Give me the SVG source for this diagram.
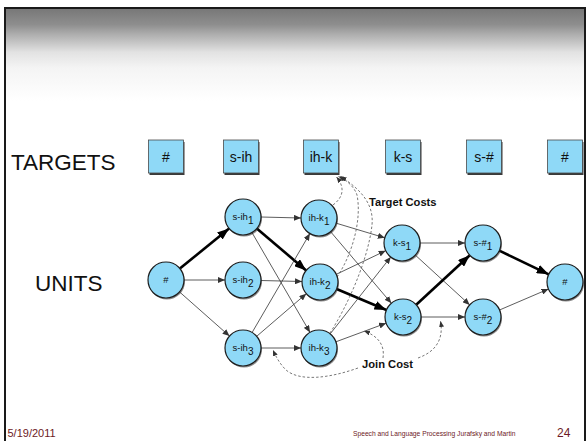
<svg xmlns="http://www.w3.org/2000/svg" width="587" height="441" viewBox="0 0 587 441">
  <style>
    .lbl { font-family: "Liberation Sans", Arial, sans-serif; fill: #111; }
    .row { font-size: 22.5px; }
    .tbox { fill: #8fd9f7; stroke: #4a4a4a; stroke-width: 0.8; }
    .tshadow { fill: #3a3a3a; }
    .ttext { font-size: 14px; text-anchor: middle; }
    .unit { fill: #8fd9f7; stroke: #1e1e1e; stroke-width: 1.2; }
    .ushadow { fill: #2a2a2a; opacity: 0.55; }
    .utext { font-size: 9.5px; text-anchor: middle; }
    .thin { stroke: #333; stroke-width: 0.8; fill: none; marker-end: url(#arr); }
    .thick { stroke: #000; stroke-width: 2.6; fill: none; marker-end: url(#arrBig); }
    .cost { stroke: #555; stroke-width: 0.8; stroke-dasharray: 2.5 2; fill: none; marker-end: url(#arrDash); }
    .note { font-size: 11.2px; font-weight: bold; }
    .foot { font-family: "Liberation Sans", Arial, sans-serif; fill: #6d1a26; }
  </style>
  <defs>
    <linearGradient id="topShade" x1="0" y1="0" x2="0" y2="1">
      <stop offset="0" stop-color="#787878"/>
      <stop offset="0.17" stop-color="#8e8e8e"/>
      <stop offset="0.27" stop-color="#acacac"/>
      <stop offset="0.40" stop-color="#cfcfcf"/>
      <stop offset="0.47" stop-color="#e2e2e2"/>
      <stop offset="0.64" stop-color="#f4f4f4"/>
      <stop offset="1" stop-color="#ffffff"/>
    </linearGradient>
    <marker id="arr" markerUnits="userSpaceOnUse" markerWidth="8" markerHeight="6" refX="7" refY="3" orient="auto">
      <path d="M0,0 L7,3 L0,6 Z" fill="#333"/>
    </marker>
    <marker id="arrBig" markerUnits="userSpaceOnUse" markerWidth="13" markerHeight="9" refX="12" refY="4.5" orient="auto">
      <path d="M0,0 L12,4.5 L0,9 Z" fill="#000"/>
    </marker>
    <marker id="arrDash" markerUnits="userSpaceOnUse" markerWidth="7" markerHeight="5" refX="6" refY="2.5" orient="auto">
      <path d="M0,0 L6,2.5 L0,5 Z" fill="#333"/>
    </marker>
  </defs>

  <!-- slide frame with shaded header band -->
  <rect x="0" y="0" width="587" height="441" fill="#ffffff"/>
  <rect x="5" y="8" width="580" height="450" fill="#ffffff" stroke="#1a1a1a" stroke-width="2"/>
  <rect x="6" y="9" width="578" height="92" fill="url(#topShade)"/>

  <!-- row headings -->
  <text class="lbl row" x="11" y="170">TARGETS</text>
  <text class="lbl row" x="35" y="291">UNITS</text>

  <!-- target boxes -->
  <g id="target-hash-start">
    <rect class="tshadow" x="149.5" y="142" width="35" height="33"/>
    <rect class="tbox" x="148.5" y="140" width="35" height="33"/>
    <text class="lbl ttext" x="166" y="162">#</text>
  </g>
  <g id="target-s-ih">
    <rect class="tshadow" x="224.5" y="142" width="35" height="33"/>
    <rect class="tbox" x="223.5" y="140" width="35" height="33"/>
    <text class="lbl ttext" x="241" y="162">s-ih</text>
  </g>
  <g id="target-ih-k">
    <rect class="tshadow" x="304.5" y="142" width="35" height="33"/>
    <rect class="tbox" x="303.5" y="140" width="35" height="33"/>
    <text class="lbl ttext" x="321" y="162">ih-k</text>
  </g>
  <g id="target-k-s">
    <rect class="tshadow" x="386.5" y="142" width="35" height="33"/>
    <rect class="tbox" x="385.5" y="140" width="35" height="33"/>
    <text class="lbl ttext" x="403" y="162">k-s</text>
  </g>
  <g id="target-s-hash">
    <rect class="tshadow" x="467.5" y="142" width="35" height="33"/>
    <rect class="tbox" x="466.5" y="140" width="35" height="33"/>
    <text class="lbl ttext" x="484" y="162">s-#</text>
  </g>
  <g id="target-hash-end">
    <rect class="tshadow" x="548.5" y="142" width="35" height="33"/>
    <rect class="tbox" x="547.5" y="140" width="35" height="33"/>
    <text class="lbl ttext" x="565" y="162">#</text>
  </g>

  <!-- connectors between units, plus dashed cost annotations -->
  <g id="connectors">
    <line class="thick" x1="179.9" y1="268.6" x2="229.1" y2="228.4"/>
    <line class="thin" x1="184" y1="280" x2="225" y2="280"/>
    <line class="thin" x1="179.5" y1="291.9" x2="229.5" y2="336.1"/>

    <line class="thin" x1="261" y1="217" x2="301" y2="218"/>
    <line class="thick" x1="256.8" y1="228.6" x2="306.2" y2="270.4"/>
    <line class="thin" x1="252" y1="232.6" x2="310" y2="332.4"/>
    <line class="thin" x1="261" y1="280.5" x2="302" y2="281.5"/>
    <line class="thin" x1="252.1" y1="332.5" x2="309.9" y2="233.5"/>
    <line class="thin" x1="256.7" y1="336.3" x2="306.3" y2="293.7"/>
    <line class="thin" x1="261" y1="348" x2="301" y2="348"/>

    <line class="thin" x1="336.2" y1="223.2" x2="384.8" y2="237.8"/>
    <line class="thin" x1="330.6" y1="231.7" x2="391.4" y2="303.3"/>
    <line class="thin" x1="336.3" y1="274.3" x2="385.7" y2="250.7"/>
    <line class="thick" x1="336.6" y1="289" x2="386.4" y2="310"/>
    <line class="thin" x1="330.2" y1="333.9" x2="390.8" y2="256.9"/>
    <line class="thin" x1="335.9" y1="341.8" x2="386.1" y2="323.2"/>

    <line class="thin" x1="420" y1="243" x2="465" y2="243"/>
    <line class="thin" x1="415.3" y1="255.1" x2="469.7" y2="304.9"/>
    <line class="thick" x1="416.2" y1="304.8" x2="469.8" y2="255.2"/>
    <line class="thin" x1="421" y1="317" x2="465" y2="317"/>

    <line class="thick" x1="499.3" y1="250.7" x2="548.7" y2="274.3"/>
    <line class="thin" x1="499.5" y1="310" x2="548.5" y2="289"/>

    <!-- target costs: units of the ih-k column back to the ih-k target -->
    <path class="cost" d="M333,205 C345,196 344,186 336.5,177"/>
    <path class="cost" d="M337,277 C352,255 362,220 357,195 C354,186 346,180 338.5,176.5"/>
    <path class="cost" d="M330,333 C348,305 368,260 372,225 C374,205 362,190 340.5,176.5"/>

    <!-- join costs: pointing at the joins -->
    <path class="cost" d="M358,368 C330,378 300,382 286,370 C280,364 276,357 273,350"/>
    <path class="cost" d="M383,358 C385,345 378,336 364,331"/>
    <path class="cost" d="M418,358 C435,352 444,340 440.5,321"/>
  </g>

  <text class="lbl note" x="369" y="206">Target Costs</text>
  <text class="lbl note" x="362" y="368">Join Cost</text>

  <!-- unit nodes -->
  <g id="unit-hash-start">
    <circle class="ushadow" cx="167" cy="281.5" r="18"/>
    <circle class="unit" cx="166" cy="280" r="18"/>
    <text class="lbl utext" x="166" y="283">#</text>
  </g>
  <g id="unit-s-ih-1">
    <circle class="ushadow" cx="244" cy="218.5" r="18"/>
    <circle class="unit" cx="243" cy="217" r="18"/>
    <text class="lbl utext" x="243" y="220">s-ih<tspan dy="4" font-size="10">1</tspan></text>
  </g>
  <g id="unit-s-ih-2">
    <circle class="ushadow" cx="244" cy="281.5" r="18"/>
    <circle class="unit" cx="243" cy="280" r="18"/>
    <text class="lbl utext" x="243" y="283">s-ih<tspan dy="4" font-size="10">2</tspan></text>
  </g>
  <g id="unit-s-ih-3">
    <circle class="ushadow" cx="244" cy="349.5" r="18"/>
    <circle class="unit" cx="243" cy="348" r="18"/>
    <text class="lbl utext" x="243" y="351">s-ih<tspan dy="4" font-size="10">3</tspan></text>
  </g>
  <g id="unit-ih-k-1">
    <circle class="ushadow" cx="320" cy="219.5" r="18"/>
    <circle class="unit" cx="319" cy="218" r="18"/>
    <text class="lbl utext" x="319" y="221">ih-k<tspan dy="4" font-size="10">1</tspan></text>
  </g>
  <g id="unit-ih-k-2">
    <circle class="ushadow" cx="321" cy="283.5" r="18"/>
    <circle class="unit" cx="320" cy="282" r="18"/>
    <text class="lbl utext" x="320" y="285">ih-k<tspan dy="4" font-size="10">2</tspan></text>
  </g>
  <g id="unit-ih-k-3">
    <circle class="ushadow" cx="320" cy="349.5" r="18"/>
    <circle class="unit" cx="319" cy="348" r="18"/>
    <text class="lbl utext" x="319" y="351">ih-k<tspan dy="4" font-size="10">3</tspan></text>
  </g>
  <g id="unit-k-s-1">
    <circle class="ushadow" cx="403" cy="244.5" r="18"/>
    <circle class="unit" cx="402" cy="243" r="18"/>
    <text class="lbl utext" x="402" y="246">k-s<tspan dy="4" font-size="10">1</tspan></text>
  </g>
  <g id="unit-k-s-2">
    <circle class="ushadow" cx="404" cy="318.5" r="18"/>
    <circle class="unit" cx="403" cy="317" r="18"/>
    <text class="lbl utext" x="403" y="320">k-s<tspan dy="4" font-size="10">2</tspan></text>
  </g>
  <g id="unit-s-hash-1">
    <circle class="ushadow" cx="484" cy="244.5" r="18"/>
    <circle class="unit" cx="483" cy="243" r="18"/>
    <text class="lbl utext" x="483" y="246">s-#<tspan dy="4" font-size="10">1</tspan></text>
  </g>
  <g id="unit-s-hash-2">
    <circle class="ushadow" cx="484" cy="318.5" r="18"/>
    <circle class="unit" cx="483" cy="317" r="18"/>
    <text class="lbl utext" x="483" y="320">s-#<tspan dy="4" font-size="10">2</tspan></text>
  </g>
  <g id="unit-hash-end">
    <circle class="ushadow" cx="566" cy="283.5" r="18"/>
    <circle class="unit" cx="565" cy="282" r="18"/>
    <text class="lbl utext" x="565" y="285">#</text>
  </g>

  <!-- footer -->
  <text class="foot" x="7.5" y="437" font-size="11">5/19/2011</text>
  <text class="foot" x="353" y="436" font-size="6.7">Speech and Language Processing  Jurafsky and Martin</text>
  <text class="foot" x="557" y="437" font-size="12">24</text>
</svg>
